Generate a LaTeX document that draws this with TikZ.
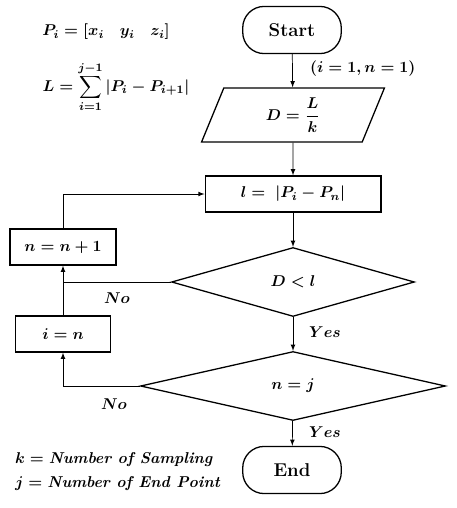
\documentclass[tikz,border=0pt]{standalone}
\usepackage{amsmath}
\usepackage{amssymb}
\usepackage{tikz}
\usetikzlibrary{shapes.geometric}

\begin{document}
\begin{tikzpicture}[x=0.7pt,y=-0.7pt,
  every node/.style={font=\boldmath\fontsize{11}{13}\selectfont},
  term/.style={draw,line width=0.9pt,rectangle,rounded corners=15pt,minimum width=69pt,minimum height=33pt,font=\bfseries\fontsize{13}{15}\selectfont},
  io/.style={draw,line width=0.9pt,trapezium,trapezium left angle=57,trapezium right angle=123,trapezium stretches body,minimum width=128pt,minimum height=37.8pt,inner sep=0pt},
  proc/.style={draw,line width=0.9pt,rectangle,minimum height=25.2pt,inner sep=0pt},
  cond/.style={draw,line width=0.9pt,diamond,minimum height=48.3pt,inner sep=0pt},
  arr/.style={->,>=latex,line width=0.5pt}]
\useasboundingbox (0,0) rectangle (457,508);
\node[inner sep=0pt] (pdef) at (106,32) {$P_i = [x_i\quad y_i\quad z_i]$};
\node[inner sep=0pt] (ldef) at (116,87) {$\displaystyle L = \sum_{i=1}^{j-1}|P_i - P_{i+1}|$};
\node[term] (start) at (292,30) {Start};
\node[io] (dval) at (293,115) {$D = \dfrac{L}{k}$};
\node[proc,minimum width=123pt] (dist) at (293,194) {$l =\ |P_i - P_n|$};
\node[cond,minimum width=170pt] (test1) at (293,282) {$D < l$};
\node[cond,minimum width=213.5pt] (test2) at (293,386) {$n = j$};
\node[term] (stop) at (292,470) {End};
\node[proc,minimum width=74pt] (incn) at (63,247) {$n = n + 1$};
\node[proc,minimum width=66pt] (seti) at (63,334) {$i = n$};
\node[anchor=west] (init) at (305,69) {$(i = 1, n = 1)$};
\draw[arr] (start) -- (dval);
\draw[arr] (dval) -- (dist);
\draw[arr] (dist) -- (test1);
\draw[arr] (test1) -- (test2);
\draw[arr] (test2) -- (stop);
\draw[arr] (incn.north) |- (dist.west);
\draw[arr] (test1.west) -| (incn.south);
\draw[line width=0.5pt] (seti.north) -- (seti.north |- test1.west);
\draw[arr] (test2.west) -| (seti.south);
\node (no1) at (117,298) {$No$};
\node (yes1) at (325,332) {$Yes$};
\node (no2) at (114,404) {$No$};
\node (yes2) at (325,432) {$Yes$};
\node[anchor=west] (keyk) at (10,460) {$k = $ \textbf{\textit{Number of Sampling}}};
\node[anchor=west] (keyj) at (10,484) {$j = $ \textbf{\textit{Number of End Point}}};
\end{tikzpicture}
\end{document}
